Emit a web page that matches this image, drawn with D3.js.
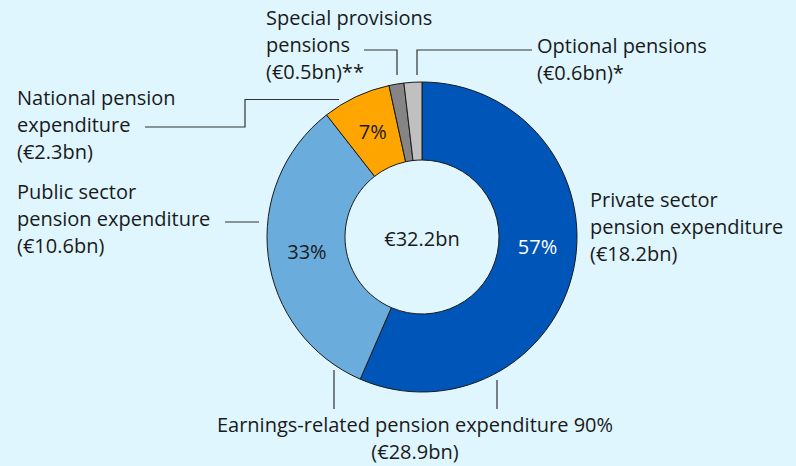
<!DOCTYPE html>
<html>
<head>
<meta charset="utf-8">
<script src="https://cdn.jsdelivr.net/npm/d3@7"></script>
<style>
  html, body { margin: 0; padding: 0; background: #dff6ff; }
  svg { display: block; font-family: "Open Sans", Lato, sans-serif; }
</style>
</head>
<body>
<div id="chart"></div>
<script>
// pension expenditure, € bn (clockwise from 12 o'clock)
const categories = ["Private sector pension expenditure", "Public sector pension expenditure",
    "National pension expenditure", "Special provisions pensions", "Optional pensions"];
const values = [18.2, 10.6, 2.3, 0.5, 0.6];
const shares = ["57%", "33%", "7%", "", ""];
const colors = ["#0055b8", "#6aaddd", "#ffa500", "#858585", "#c0c0c0"];
const total = "€32.2bn";

const width = 796, height = 466;
const cx = 422, cy = 237;
const outerR = 155, innerR = 77;
const fs = 20;

const svg = d3.select("#chart").append("svg")
    .attr("width", width)
    .attr("height", height);

const pie = d3.pie().sort(null).value(d => d)(values);
const arc = d3.arc().innerRadius(innerR).outerRadius(outerR);

const g = svg.append("g").attr("transform", `translate(${cx},${cy})`);

g.selectAll("path.slice")
    .data(pie)
    .enter().append("path")
    .attr("class", "slice")
    .attr("d", arc)
    .attr("fill", (d, i) => colors[i])
    .attr("stroke", "#1a1a1a")
    .attr("stroke-width", 1);

// percent labels, private one sits a bit higher than its centroid
g.selectAll("text.pct")
    .data(pie)
    .enter().append("text")
    .attr("class", "pct")
    .attr("transform", (d, i) => {
        let c = arc.centroid(d);
        if (i === 0) {
            const a = 95 * Math.PI / 180, r = (innerR + outerR) / 2;
            c = [r * Math.sin(a), -r * Math.cos(a)];
        }
        return `translate(${c[0]},${c[1]})`;
    })
    .attr("text-anchor", "middle")
    .attr("dy", "0.35em")
    .attr("font-size", fs)
    .attr("fill", (d, i) => i === 0 ? "#ffffff" : "#1a1a1a")
    .text((d, i) => shares[i]);

g.append("text")
    .attr("text-anchor", "middle")
    .attr("dy", "0.35em")
    .attr("y", 2)
    .attr("font-size", fs)
    .attr("fill", "#1a1a1a")
    .text(total);

// outside labels
const fmt = v => `(€${d3.format(".1f")(v)}bn)`;
const lineH = 27;
function block(x, y, lines, anchor) {
    const t = svg.append("text")
        .attr("x", x).attr("y", y)
        .attr("font-size", fs)
        .attr("fill", "#1a1a1a")
        .attr("text-anchor", anchor || "start");
    lines.forEach((s, k) => {
        t.append("tspan").attr("x", x).attr("y", y + k * lineH).text(s);
    });
}

block(266, 25, ["Special provisions", "pensions", fmt(values[3]) + "**"]);
block(537, 53, ["Optional pensions", fmt(values[4]) + "*"]);
block(17, 105, ["National pension", "expenditure", fmt(values[2])]);
block(17, 199, ["Public sector", "pension expenditure", fmt(values[1])]);
block(590, 207, ["Private sector", "pension expenditure", fmt(values[0])]);
block(415, 432, ["Earnings-related pension expenditure 90%", fmt(values[0] + values[1] + 0.1)], "middle");

// leader lines
const leaders = [
    [[364, 50], [397, 50], [397, 75]],
    [[532, 50], [417, 50], [417, 75]],
    [[145, 127], [245, 127], [245, 99.5], [339, 99.5]],
    [[225, 222], [259, 222]],
    [[334, 370], [334, 409]],
    [[497, 380], [497, 409]]
];
svg.selectAll("path.leader")
    .data(leaders)
    .enter().append("path")
    .attr("class", "leader")
    .attr("d", d3.line())
    .attr("fill", "none")
    .attr("stroke", "#333")
    .attr("stroke-width", 1.2);
</script>
</body>
</html>
